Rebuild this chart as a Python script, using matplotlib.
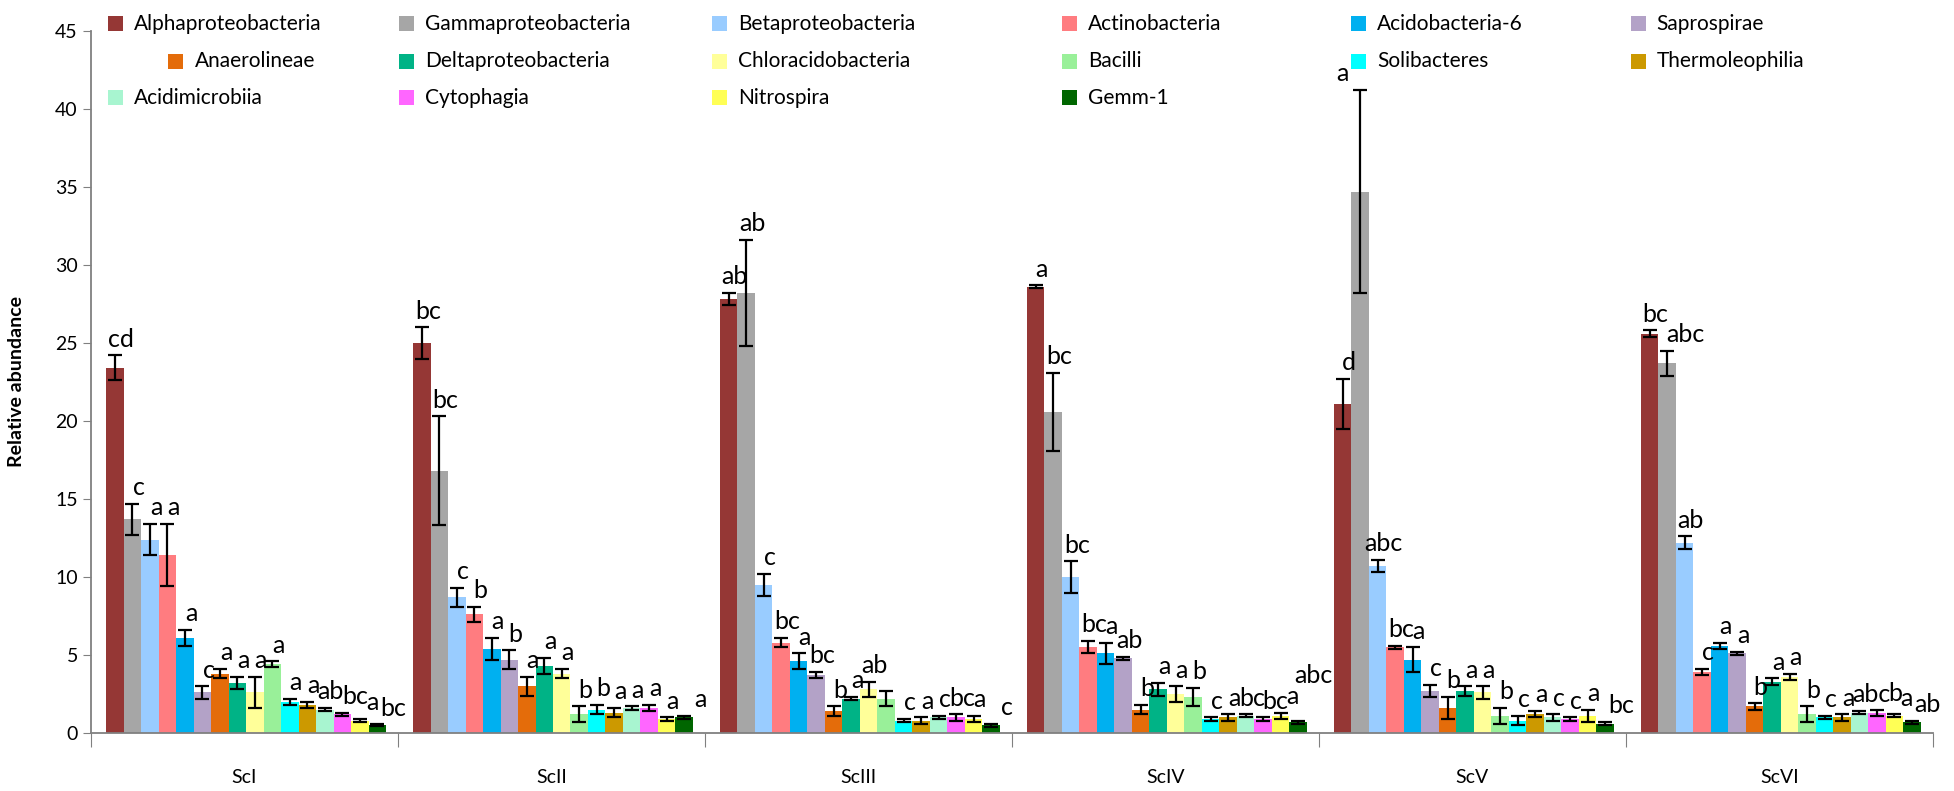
import matplotlib
matplotlib.use("Agg")
import matplotlib.pyplot as plt
from matplotlib.patches import Rectangle
import numpy as np

plt.rcParams['font.family'] = ['Lato', 'DejaVu Sans']

groups = ["ScI", "ScII", "ScIII", "ScIV", "ScV", "ScVI"]
taxa = ["Alphaproteobacteria", "Gammaproteobacteria", "Betaproteobacteria", "Actinobacteria",
        "Acidobacteria-6", "Saprospirae", "Anaerolineae", "Deltaproteobacteria",
        "Chloracidobacteria", "Bacilli", "Solibacteres", "Thermoleophilia",
        "Acidimicrobiia", "Cytophagia", "Nitrospira", "Gemm-1"]
colors = ["#953735", "#A6A6A6", "#99CCFF", "#FF7C80", "#00B0F0", "#B3A2C7",
          "#E46C0A", "#00B386", "#FFFF99", "#99F099", "#00FFFF", "#CC9900",
          "#A8F5D0", "#FF66FF", "#FFFF55", "#006600"]

# mean relative abundance per group (one list per group, taxa order)
means_ScI = [23.4, 13.7, 12.4, 11.4, 6.1, 2.6, 3.8, 3.2, 2.6, 4.4, 2.0, 1.8, 1.5, 1.2, 0.8, 0.5]
means_ScII = [25.0, 16.8, 8.7, 7.6, 5.4, 4.7, 3.0, 4.3, 3.8, 1.2, 1.5, 1.3, 1.6, 1.6, 0.9, 1.0]
means_ScIII = [27.8, 28.2, 9.5, 5.8, 4.6, 3.7, 1.4, 2.2, 2.8, 2.2, 0.8, 0.8, 1.0, 1.0, 0.9, 0.5]
means_ScIV = [28.6, 20.6, 10.0, 5.5, 5.1, 4.8, 1.5, 2.8, 2.5, 2.3, 0.9, 1.0, 1.1, 0.9, 1.1, 0.7]
means_ScV = [21.1, 34.7, 10.7, 5.5, 4.7, 2.7, 1.6, 2.7, 2.6, 1.1, 0.8, 1.2, 1.0, 0.9, 1.1, 0.6]
means_ScVI = [25.6, 23.7, 12.2, 3.9, 5.6, 5.1, 1.7, 3.3, 3.6, 1.2, 1.0, 1.0, 1.3, 1.3, 1.1, 0.7]

err_ScI = [0.8, 1.0, 1.0, 2.0, 0.5, 0.4, 0.3, 0.4, 1.0, 0.2, 0.2, 0.2, 0.1, 0.1, 0.1, 0.05]
err_ScII = [1.0, 3.5, 0.6, 0.5, 0.7, 0.6, 0.6, 0.5, 0.3, 0.5, 0.3, 0.3, 0.1, 0.2, 0.1, 0.1]
err_ScIII = [0.4, 3.4, 0.7, 0.3, 0.5, 0.2, 0.3, 0.1, 0.5, 0.5, 0.1, 0.2, 0.1, 0.2, 0.2, 0.1]
err_ScIV = [0.1, 2.5, 1.0, 0.4, 0.7, 0.1, 0.3, 0.4, 0.5, 0.6, 0.1, 0.2, 0.1, 0.1, 0.2, 0.1]
err_ScV = [1.6, 6.5, 0.4, 0.1, 0.8, 0.4, 0.7, 0.3, 0.4, 0.5, 0.3, 0.2, 0.2, 0.1, 0.4, 0.1]
err_ScVI = [0.2, 0.8, 0.4, 0.2, 0.2, 0.1, 0.2, 0.2, 0.2, 0.5, 0.1, 0.2, 0.1, 0.2, 0.1, 0.1]

letters_ScI = ["cd", "c", "a", "a", "a", "c", "a", "a", "a", "a", "a", "a", "ab", "bc", "a", "bc"]
letters_ScII = ["bc", "bc", "c", "b", "a", "b", "a", "a", "a", "b", "b", "a", "a", "a", "a", "a"]
letters_ScIII = ["ab", "ab", "c", "bc", "a", "bc", "b", "a", "ab", "", "c", "a", "c", "bc", "a", "c"]
letters_ScIV = ["a", "bc", "bc", "bc", "a", "ab", "b", "a", "a", "b", "c", "a", "bc", "bc", "a", "abc"]
letters_ScV = ["d", "a", "abc", "bc", "a", "c", "b", "a", "a", "b", "c", "a", "c", "c", "a", "bc"]
letters_ScVI = ["bc", "abc", "ab", "c", "a", "a", "b", "a", "a", "b", "c", "a", "abc", "b", "a", "ab"]

means = np.array([means_ScI, means_ScII, means_ScIII, means_ScIV, means_ScV, means_ScVI])
errs = np.array([err_ScI, err_ScII, err_ScIII, err_ScIV, err_ScV, err_ScVI])
letters = [letters_ScI, letters_ScII, letters_ScIII, letters_ScIV, letters_ScV, letters_ScVI]

fig = plt.figure(figsize=(19.54, 7.91), dpi=100)
ax = fig.add_axes([0.0466, 0.0733, 0.9425, 0.8877])

n = len(taxa)
w = 0.057
start = -0.451
gx = np.arange(len(groups))
xs = []
for j in range(n):
    x = gx + start + w * (j + 0.5)
    xs.append(x)
    ax.bar(x, means[:, j], width=w, color=colors[j], edgecolor='none', zorder=2)
    ax.errorbar(x, means[:, j], yerr=errs[:, j], fmt='none', ecolor='black',
                elinewidth=1.6, capsize=5, capthick=1.6, zorder=3)

ax.set_xlim(-0.5, len(groups) - 0.5)
ax.set_ylim(0, 45)
ax.set_yticks(np.arange(0, 46, 5))
ax.tick_params(axis='y', labelsize=14, direction='out', length=6, color='#808080')
ax.set_xticks(np.arange(-0.5, len(groups), 1.0))
ax.set_xticklabels([])
ax.tick_params(axis='x', which='major', direction='out', length=10, color='#808080')
ax.set_xticks(gx, minor=True)
ax.set_xticklabels(groups, minor=True, fontsize=14)
ax.tick_params(axis='x', which='minor', length=0, pad=26)
for s in ['top', 'right']:
    ax.spines[s].set_visible(False)
for s in ['left', 'bottom']:
    ax.spines[s].set_color('#808080')
    ax.spines[s].set_linewidth(1.3)
ax.set_ylabel("Relative abundance", fontsize=14, fontweight='bold')
ax.yaxis.set_label_coords(-0.036, 0.5)

# legend: 3 rows x 6 columns, row-wise order, placed in axes fraction
col_x = [0.009, 0.167, 0.337, 0.527, 0.684, 0.836]
row_y = [1.010, 0.957, 0.905]
row_shift = [0.0, 0.033, 0.0]
sq_w = 15 / (0.9425 * 1954)
sq_h = 15 / (0.8877 * 791)
legend_boxes = []
fig.canvas.draw()
renderer = fig.canvas.get_renderer()
for k, name in enumerate(taxa):
    r, c = divmod(k, 6)
    x0 = col_x[c] + (row_shift[r] if c == 0 else 0.0)
    y0 = row_y[r]
    p = ax.add_patch(Rectangle((x0, y0 - sq_h / 2), sq_w, sq_h, transform=ax.transAxes,
                               facecolor=colors[k], edgecolor='none', clip_on=False))
    t = ax.text(x0 + sq_w + 0.006, y0, name, transform=ax.transAxes, ha='left', va='center',
                fontsize=15, color='black')
    legend_boxes.append(t.get_window_extent(renderer))
    legend_boxes.append(p.get_window_extent(renderer))

# significance letters: above error bars; on a collision first slide right a little,
# otherwise stack upward
inv = ax.transData.inverted()
fwd = ax.transData
shrink = 1
max_slide = 20


def first_hit(bb, boxes):
    for pb in boxes:
        if (bb.x0 + shrink < pb.x1 - shrink and bb.x1 - shrink > pb.x0 + shrink and
                bb.y0 + shrink < pb.y1 - shrink and bb.y1 - shrink > pb.y0 + shrink):
            return pb
    return None


for g in range(len(groups)):
    placed = []
    for j in range(n):
        lab = letters[g][j]
        if not lab:
            continue
        dx = w * 0.9 if j == n - 1 else w * 0.35
        x0 = xs[j][g] + dx
        y = means[g, j] + errs[g, j] + 0.3
        t = ax.text(x0, y, lab, ha='center', va='bottom',
                    fontsize=18, color='black', zorder=4)
        bb = t.get_window_extent(renderer)
        hit = first_hit(bb, placed)
        if hit is not None:
            need = hit.x1 - 2 * shrink - bb.x0
            if 0 < need <= max_slide:
                px = fwd.transform((x0, 0))[0] + need
                t.set_x(inv.transform((px, 0))[0])
                bb = t.get_window_extent(renderer)
                if first_hit(bb, placed) is not None:
                    t.set_x(x0)
        for _ in range(8):
            bb = t.get_window_extent(renderer)
            hit = first_hit(bb, placed)
            if hit is None:
                break
            t.set_y(inv.transform((0, hit.y1 - 2 * shrink))[1])
        bb = t.get_window_extent(renderer)
        for lb in legend_boxes:
            if bb.x0 < lb.x1 and bb.x1 > lb.x0 and bb.y0 < lb.y1 and bb.y1 > lb.y0:
                shift_px = lb.x0 - bb.x1 - 2
                t.set_x(inv.transform((bb.x0 + bb.width / 2 + shift_px, 0))[0])
                bb = t.get_window_extent(renderer)
        placed.append(t.get_window_extent(renderer))

fig.savefig("out.png", dpi=100)
